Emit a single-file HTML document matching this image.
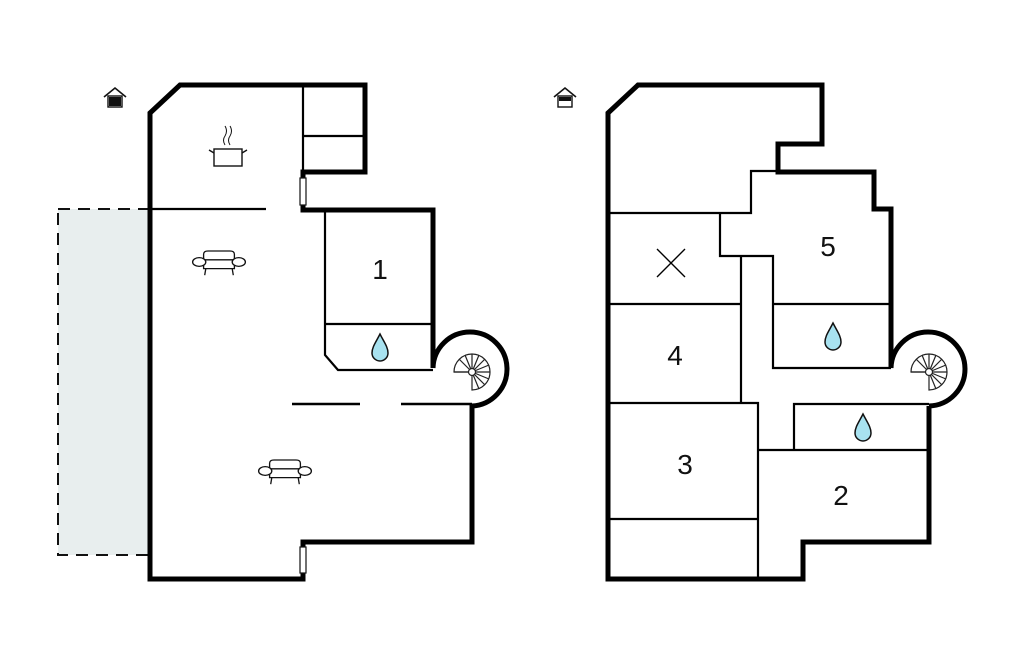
<!DOCTYPE html>
<html><head><meta charset="utf-8"><style>
html,body{margin:0;padding:0;background:#fff;width:1024px;height:652px;overflow:hidden}
svg{display:block}
text{font-family:"Liberation Sans",sans-serif;font-size:28px;fill:#111}
</style></head><body>
<svg width="1024" height="652" viewBox="0 0 1024 652" xmlns="http://www.w3.org/2000/svg">
<defs>
<g id="drop"><path d="M0,-14 C4,-6 8,-1 8,5 A8,8 0 0 1 -8,5 C-8,-1 -4,-6 0,-14Z" fill="#a8e2f0" stroke="#111" stroke-width="1.5"/></g>
<g id="stair" fill="none" stroke="#222" stroke-width="1.2">
<path d="M-18,0 A18,18 0 1 1 0,18 L0,0 Z" fill="#fff"/>
<line x1="0" y1="0" x2="-18" y2="0"/><line x1="0" y1="0" x2="-13" y2="-13"/><line x1="0" y1="0" x2="0" y2="-18"/><line x1="0" y1="0" x2="13" y2="-13"/><line x1="0" y1="0" x2="18" y2="0"/><line x1="0" y1="0" x2="13" y2="13"/>
<line x1="0" y1="0" x2="-7" y2="-17"/><line x1="0" y1="0" x2="7" y2="-17"/><line x1="0" y1="0" x2="17" y2="-7"/><line x1="0" y1="0" x2="17" y2="7"/><line x1="0" y1="0" x2="7" y2="17"/>
<circle r="3.5" fill="#fff"/>
</g>
<g id="sofa" fill="#fff" stroke="#111" stroke-width="1.2" transform="scale(1.1)">
<path d="M-14,-3 L-14,-7 Q-14,-10 -10,-10 L10,-10 Q14,-10 14,-7 L14,-3"/>
<path d="M-14,-2 L14,-2 L14,6 L-14,6 Z"/>
<ellipse cx="-18" cy="0" rx="6" ry="4"/><ellipse cx="18" cy="0" rx="6" ry="4"/>
<line x1="-12" y1="6" x2="-13" y2="12"/><line x1="12" y1="6" x2="13" y2="12"/>
</g>
<g id="house" stroke="#111" fill="none">
<path d="M-11,0 L0,-9 L11,0" stroke-width="1.6"/>
<rect x="-7" y="-1" width="14" height="11" fill="#fff" stroke-width="1.4"/>
</g>
</defs>

<rect x="58" y="209" width="92" height="346" fill="#e8eeee" stroke="#111" stroke-width="2" stroke-dasharray="12,8"/>

<g fill="none" stroke="#000" stroke-linejoin="miter">
<path d="M472,404 L472,542 L303,542 L303,579 L150,579 L150,113 L180,85 L365,85 L365,172 L303,172 L303,210 L433,210 L433,368" stroke-width="5"/>
<path d="M433,368 A37,37 0 1 1 472,406" stroke-width="5"/>
<g stroke-width="2.2">
<line x1="303" y1="85" x2="303" y2="172"/>
<line x1="303" y1="136" x2="365" y2="136"/>
<line x1="150" y1="209" x2="266" y2="209"/>
<path d="M325,210 L325,355 L338,370 L433,370"/>
<line x1="325" y1="324" x2="433" y2="324"/>
<line x1="292" y1="404" x2="360" y2="404" stroke-width="2.6"/>
<line x1="401" y1="404" x2="472" y2="404" stroke-width="2.6"/>
</g>
</g>
<rect x="300" y="178" width="6" height="27" fill="#fff" stroke="#111" stroke-width="1.2"/>
<rect x="300" y="547" width="6" height="26" fill="#fff" stroke="#111" stroke-width="1.2"/>
<text x="380" y="279" text-anchor="middle">1</text>
<use href="#drop" x="380" y="348"/>
<use href="#stair" x="472" y="372"/>
<use href="#sofa" x="219" y="262"/>
<use href="#sofa" x="285" y="471"/>
<g stroke="#111" fill="#fff" stroke-width="1.4">
<rect x="214" y="149" width="28" height="17"/>
<path d="M214,153 L209,150 M242,153 L247,150" />
<path d="M225,145 Q222,140 225,136 Q228,131 225,126 M230,145 Q227,140 230,136 Q233,131 230,126" fill="none" stroke-width="1"/>
</g>
<use href="#house" x="115" y="97"/>
<rect x="109" y="97" width="12" height="9" fill="#111"/>

<g fill="none" stroke="#000">
<path d="M929,406 L929,542 L803,542 L803,579 L608,579 L608,113 L638,85 L822,85 L822,144 L778,144 L778,172 L874,172 L874,209 L891,209 L891,368" stroke-width="5"/>
<path d="M891,368 A37,37 0 1 1 929,406" stroke-width="5"/>
<g stroke-width="2.2">
<path d="M608,213 L751,213 L751,171 L778,171"/>
<path d="M720,213 L720,256 L773,256 L773,368 L891,368"/>
<line x1="741" y1="256" x2="741" y2="403"/>
<line x1="773" y1="304" x2="891" y2="304"/>
<line x1="608" y1="304" x2="741" y2="304"/>
<path d="M608,403 L758,403 L758,579"/>
<line x1="758" y1="450" x2="929" y2="450"/>
<path d="M794,450 L794,404 L929,404"/>
<line x1="608" y1="519" x2="758" y2="519"/>
<path d="M657,249 L685,277 M685,249 L657,277" stroke-width="1.4"/>
</g>
</g>
<text x="828" y="256" text-anchor="middle">5</text>
<text x="675" y="365" text-anchor="middle">4</text>
<text x="685" y="474" text-anchor="middle">3</text>
<text x="841" y="505" text-anchor="middle">2</text>
<use href="#drop" x="833" y="337"/>
<use href="#drop" x="863" y="428"/>
<use href="#stair" x="929" y="372"/>
<use href="#house" x="565" y="97"/>
<rect x="559" y="97" width="12" height="4" fill="#111"/>
</svg>
</body></html>
